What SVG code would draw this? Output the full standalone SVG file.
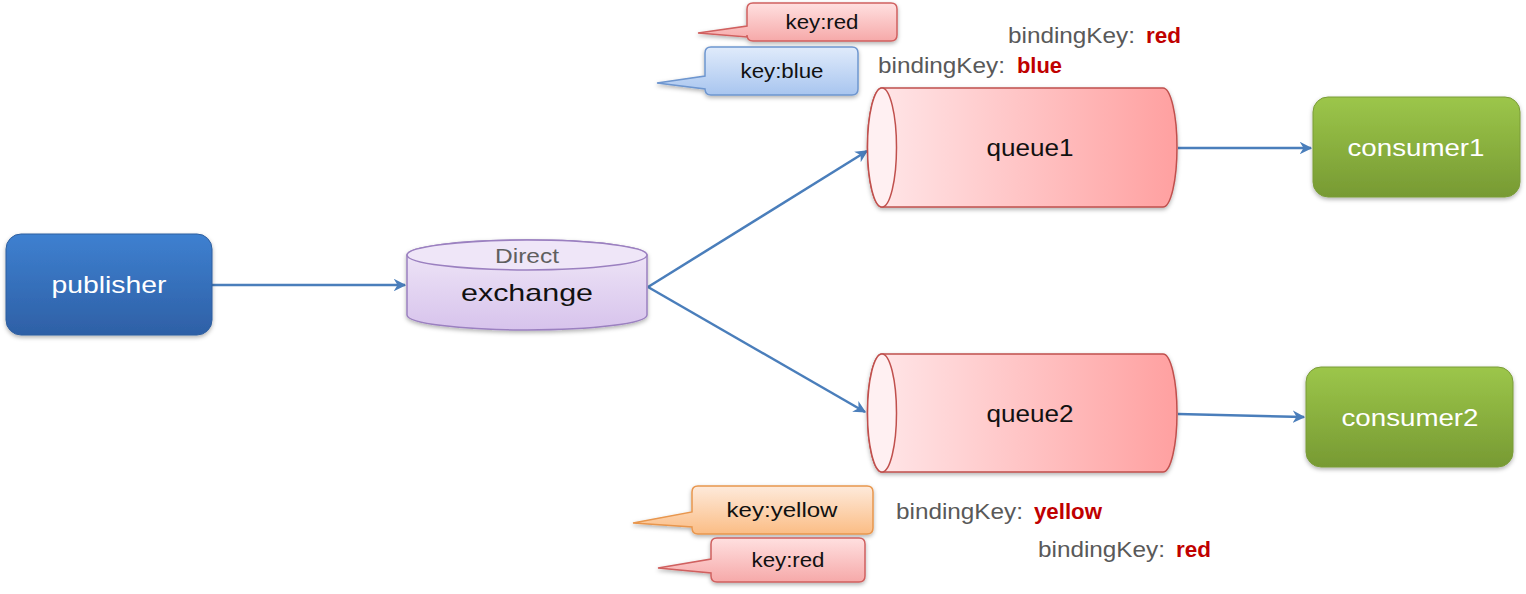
<svg xmlns="http://www.w3.org/2000/svg" width="1526" height="594" viewBox="0 0 1526 594">
<defs>
  <linearGradient id="gBlue" x1="0" y1="0" x2="0" y2="1"><stop offset="0" stop-color="#3e80d0"/><stop offset="1" stop-color="#2e60a6"/></linearGradient>
  <linearGradient id="gGreen" x1="0" y1="0" x2="0" y2="1"><stop offset="0" stop-color="#9cc64a"/><stop offset="1" stop-color="#779a33"/></linearGradient>
  <linearGradient id="gPurple" x1="0" y1="0" x2="0" y2="1"><stop offset="0" stop-color="#f1e9f8"/><stop offset="1" stop-color="#d7c3ec"/></linearGradient>
  <linearGradient id="gQueue" x1="0" y1="0" x2="1" y2="0"><stop offset="0" stop-color="#ffe8ea"/><stop offset="1" stop-color="#ffa0a0"/></linearGradient>
  <linearGradient id="gRed" x1="0" y1="0" x2="0" y2="1"><stop offset="0" stop-color="#ffe0e0"/><stop offset="1" stop-color="#f6a9a9"/></linearGradient>
  <linearGradient id="gLBlue" x1="0" y1="0" x2="0" y2="1"><stop offset="0" stop-color="#e0ebfb"/><stop offset="1" stop-color="#a8c5ef"/></linearGradient>
  <linearGradient id="gOrange" x1="0" y1="0" x2="0" y2="1"><stop offset="0" stop-color="#feeadb"/><stop offset="1" stop-color="#fbbd85"/></linearGradient>
  <filter id="sh" x="-10%" y="-10%" width="120%" height="130%"><feDropShadow dx="0" dy="2" stdDeviation="2" flood-color="#000" flood-opacity="0.3"/></filter>
  <marker id="arr" viewBox="0 0 10 10" refX="9" refY="5" markerWidth="5" markerHeight="5" orient="auto" markerUnits="strokeWidth"><path d="M0,0 L10,5 L0,10 L3,5 Z" fill="#4a7ebb"/></marker>
</defs>
<style>
  .lbl{font-family:"Liberation Sans",Arial,sans-serif;text-anchor:middle}
  .w{fill:#ffffff;font-size:24px}
  .k{fill:#111111;font-size:24px}
  .key{fill:#111111;font-size:20px;font-family:"Liberation Sans",Arial,sans-serif;text-anchor:middle}
  .bk{fill:#595959;font-size:22px;font-family:"Liberation Sans",Arial,sans-serif}
  .bv{fill:#c00000;font-size:22px;font-weight:bold;font-family:"Liberation Sans",Arial,sans-serif}
  .conn{stroke:#4a7ebb;stroke-width:2.5;fill:none;marker-end:url(#arr)}
  .q{fill:url(#gQueue);stroke:#c0504d;stroke-width:1.5}
</style>

<g id="connectors">
  <line class="conn" x1="212" y1="285" x2="405" y2="285"/>
  <line class="conn" x1="648" y1="287" x2="867" y2="151"/>
  <line class="conn" x1="648" y1="287" x2="865" y2="412"/>
  <line class="conn" x1="1178" y1="148" x2="1311" y2="148"/>
  <line class="conn" x1="1178" y1="414" x2="1304" y2="417"/>
</g>

<g id="publisher">
  <rect x="6" y="234" width="206" height="101" rx="15" fill="url(#gBlue)" stroke="#2f5f9f" stroke-width="1" filter="url(#sh)"/>
  <text class="lbl w" x="109" y="293" textLength="115" lengthAdjust="spacingAndGlyphs">publisher</text>
</g>

<g id="exchange">
  <path d="M407,255 A120,15 0 0 1 647,255 V315 A120,15 0 0 1 407,315 Z" fill="url(#gPurple)" stroke="#9b80c0" stroke-width="1.5" filter="url(#sh)"/>
  <ellipse cx="527" cy="255" rx="120" ry="15" fill="#efe6f8" stroke="#9b80c0" stroke-width="1.5"/>
  <text class="lbl" x="527" y="263" fill="#5f5f5f" font-size="20" textLength="64" lengthAdjust="spacingAndGlyphs">Direct</text>
  <text class="lbl k" x="527" y="301" textLength="132" lengthAdjust="spacingAndGlyphs">exchange</text>
</g>

<g id="queue1">
  <path class="q" d="M882,88 H1163 A14,59.5 0 0 1 1163,207 H882 A14.5,59.5 0 0 1 882,88 Z" filter="url(#sh)"/>
  <ellipse cx="882" cy="147.5" rx="14.5" ry="59.5" fill="#fff0f2" stroke="#c0504d" stroke-width="1.5"/>
  <text class="lbl k" x="1030" y="156" textLength="87" lengthAdjust="spacingAndGlyphs">queue1</text>
</g>

<g id="queue2">
  <path class="q" d="M882,354 H1163 A14,59 0 0 1 1163,472 H882 A14.5,59 0 0 1 882,354 Z" filter="url(#sh)"/>
  <ellipse cx="882" cy="413" rx="14.5" ry="59" fill="#fff0f2" stroke="#c0504d" stroke-width="1.5"/>
  <text class="lbl k" x="1030" y="422" textLength="87" lengthAdjust="spacingAndGlyphs">queue2</text>
</g>

<g id="consumer1">
  <rect x="1313" y="97" width="207" height="100" rx="15" fill="url(#gGreen)" stroke="#7a9c38" stroke-width="1" filter="url(#sh)"/>
  <text class="lbl w" x="1416" y="156" textLength="137" lengthAdjust="spacingAndGlyphs">consumer1</text>
</g>

<g id="consumer2">
  <rect x="1306" y="367" width="207" height="100" rx="15" fill="url(#gGreen)" stroke="#7a9c38" stroke-width="1" filter="url(#sh)"/>
  <text class="lbl w" x="1410" y="426" textLength="137" lengthAdjust="spacingAndGlyphs">consumer2</text>
</g>

<g id="callout-key-red-top">
  <path d="M753,3 H891 Q897,3 897,9 V35 Q897,41 891,41 H753 Q747,41 747,35 V37 L698,33 L747,26 V9 Q747,3 753,3 Z" fill="url(#gRed)" stroke="#d0605f" stroke-width="1.5" filter="url(#sh)"/>
  <text class="key" x="822" y="29" textLength="73" lengthAdjust="spacingAndGlyphs">key:red</text>
</g>

<g id="callout-key-blue">
  <path d="M711,47 H852 Q858,47 858,53 V89 Q858,95 852,95 H711 Q705,95 705,89 L657,83 L705,76 V53 Q705,47 711,47 Z" fill="url(#gLBlue)" stroke="#6e96cf" stroke-width="1.5" filter="url(#sh)"/>
  <text class="key" x="782" y="78" textLength="83" lengthAdjust="spacingAndGlyphs">key:blue</text>
</g>

<g id="callout-key-yellow">
  <path d="M698,486 H867 Q873,486 873,492 V528 Q873,534 867,534 H698 Q692,534 692,528 V527 L633,523 L692,512 V492 Q692,486 698,486 Z" fill="url(#gOrange)" stroke="#e8964d" stroke-width="1.5" filter="url(#sh)"/>
  <text class="key" x="782" y="517" textLength="111" lengthAdjust="spacingAndGlyphs">key:yellow</text>
</g>

<g id="callout-key-red-bottom">
  <path d="M717,538 H859 Q865,538 865,544 V576 Q865,582 859,582 H717 Q711,582 711,576 V573 L658,568 L711,559 V544 Q711,538 717,538 Z" fill="url(#gRed)" stroke="#d0605f" stroke-width="1.5" filter="url(#sh)"/>
  <text class="key" x="788" y="567" textLength="73" lengthAdjust="spacingAndGlyphs">key:red</text>
</g>

<g id="binding-red-top">
  <text class="bk" x="1008" y="43" textLength="127" lengthAdjust="spacingAndGlyphs">bindingKey:</text>
  <text class="bv" x="1146" y="43" textLength="35" lengthAdjust="spacingAndGlyphs">red</text>
</g>
<g id="binding-blue">
  <text class="bk" x="878" y="73" textLength="127" lengthAdjust="spacingAndGlyphs">bindingKey:</text>
  <text class="bv" x="1017" y="73" textLength="45" lengthAdjust="spacingAndGlyphs">blue</text>
</g>
<g id="binding-yellow">
  <text class="bk" x="896" y="519" textLength="127" lengthAdjust="spacingAndGlyphs">bindingKey:</text>
  <text class="bv" x="1034" y="519" textLength="68" lengthAdjust="spacingAndGlyphs">yellow</text>
</g>
<g id="binding-red-bottom">
  <text class="bk" x="1038" y="557" textLength="127" lengthAdjust="spacingAndGlyphs">bindingKey:</text>
  <text class="bv" x="1176" y="557" textLength="35" lengthAdjust="spacingAndGlyphs">red</text>
</g>
</svg>
